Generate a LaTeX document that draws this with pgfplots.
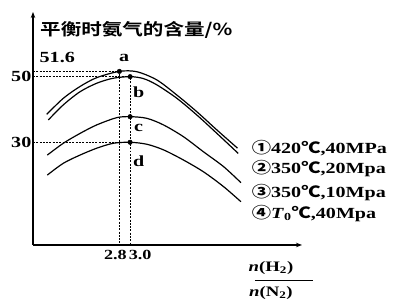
\documentclass[border=0pt]{standalone}
\usepackage{fontspec}
\setmainfont{Liberation Serif}[FakeStretch=1.3]
\newfontfamily\cjk{Noto Sans CJK SC Bold}[FakeStretch=1.25]
\usepackage{pgfplots}
\pgfplotsset{compat=1.18}
\usetikzlibrary{arrows.meta}
\begin{document}
\begin{tikzpicture}
\begin{axis}[
 scale only axis, width=269bp, height=233bp,
 xmin=1.187, xmax=6.21, ymin=-1.3, ymax=69.7,
 axis lines=left,
 axis line style={line width=1.1pt, -{Stealth[length=6bp,width=4.5bp]}},
 xtick={2.8,3.0}, xticklabels={},
 ytick={30,50},
 yticklabel style={font=\fontsize{15.5}{16}\selectfont\bfseries, inner sep=1.5bp},
 /pgf/number format/assume math mode=true,
 major tick length=0pt,
 clip=false,
]
% curve a
\addplot[black, line width=1.2pt, smooth] coordinates {(1.443,38.5)(1.753,43.4)(2.065,47.0)(2.378,49.7)(2.8,51.6)(3.125,51.5)(3.499,49.0)(3.873,44.4)(4.247,39.3)(4.621,33.75)(5.006,28.2)};
% curve b
\addplot[black, line width=1.2pt, smooth] coordinates {(1.473,36.8)(1.753,41.4)(2.065,45.4)(2.378,48.0)(2.68,49.5)(3.0,50.0)(3.25,49.4)(3.499,47.5)(3.873,43.4)(4.247,38.3)(4.621,32.7)(5.02,26.6)};
% curve c
\addplot[black, line width=1.2pt, smooth] coordinates {(1.454,26.1)(1.753,29.7)(2.065,32.7)(2.378,35.3)(2.751,37.5)(3.0,37.8)(3.312,37.3)(3.622,35.3)(3.996,31.7)(4.37,27.1)(4.744,22.6)(5.069,17.7)};
% curve d
\addplot[black, line width=1.2pt, smooth] coordinates {(1.454,20.0)(1.753,23.6)(2.065,26.1)(2.378,28.2)(2.688,29.7)(3.0,30.0)(3.312,29.4)(3.622,27.7)(3.996,24.6)(4.37,21.0)(4.744,16.5)(5.069,11.9)};
% dotted guides
\addplot[black, line width=0.8pt, dash pattern=on 2pt off 1.3pt] coordinates {(1.187,51.6)(2.8,51.6)(2.8,-1.3)};
\addplot[black, line width=0.8pt, dash pattern=on 2pt off 1.3pt] coordinates {(1.187,50)(3.0,50)(3.0,-1.3)};
\addplot[black, line width=0.8pt, dash pattern=on 2pt off 1.3pt] coordinates {(1.187,30)(3.0,30)};
% points
\addplot[black, only marks, mark=*, mark size=2.3pt] coordinates {(2.8,51.6)(3.0,50)(3.0,37.8)(3.0,30)};
% labels
\node[font=\fontsize{15.5}{16}\selectfont\bfseries] at (axis cs:2.89,55.7) {a};
\node[font=\fontsize{15.5}{16}\selectfont\bfseries] at (axis cs:3.16,45.4) {b};
\node[font=\fontsize{15.5}{16}\selectfont\bfseries] at (axis cs:3.16,34.3) {c};
\node[font=\fontsize{15.5}{16}\selectfont\bfseries] at (axis cs:3.16,24.3) {d};
\node[font=\fontsize{15.5}{16}\selectfont\bfseries] at (axis cs:1.64,55.9) {51.6};
\node[anchor=west, inner sep=0pt, font=\fontsize{16.5}{17}\selectfont\cjk] at (axis cs:1.318,64.2) {平衡时氨气的含量/\%};
\node[anchor=north east, inner sep=0pt, xshift=7.5bp, yshift=-5bp, font=\fontsize{14}{15}\selectfont\bfseries] at (axis cs:2.8,-1.3) {2.8};
\node[anchor=north west, inner sep=0pt, xshift=-1.5bp, yshift=-5bp, font=\fontsize{14}{15}\selectfont\bfseries] at (axis cs:3.0,-1.3) {3.0};
\node[font=\fontsize{14.5}{15}\selectfont\bfseries] at (axis cs:5.63,-8.3) {\textit{n}(H\textsubscript{2})};
\node[font=\fontsize{14.5}{15}\selectfont\bfseries] at (axis cs:5.63,-15.9) {\textit{n}(N\textsubscript{2})};
\draw[line width=0.9pt] (axis cs:5.33,-12.1) -- (axis cs:6.42,-12.1);
\node[anchor=west, inner sep=0pt, font=\fontsize{15.5}{16}\selectfont\bfseries] at (axis cs:5.27,28.3) {{\cjk ①}420{\cjk ℃},40MPa};
\node[anchor=west, inner sep=0pt, font=\fontsize{15.5}{16}\selectfont\bfseries] at (axis cs:5.27,21.9) {{\cjk ②}350{\cjk ℃},20Mpa};
\node[anchor=west, inner sep=0pt, font=\fontsize{15.5}{16}\selectfont\bfseries] at (axis cs:5.27,14.8) {{\cjk ③}350{\cjk ℃},10Mpa};
\node[anchor=west, inner sep=0pt, font=\fontsize{15.5}{16}\selectfont\bfseries] at (axis cs:5.27,8.4) {{\cjk ④}\textit{T}\textsubscript{0}{\cjk ℃},40Mpa};
\end{axis}
\pgfresetboundingbox
\path[use as bounding box] ([xshift=-33bp,yshift=-58bp]current axis.south west) rectangle ([xshift=91bp,yshift=12bp]current axis.north east);
\end{tikzpicture}
\end{document}
